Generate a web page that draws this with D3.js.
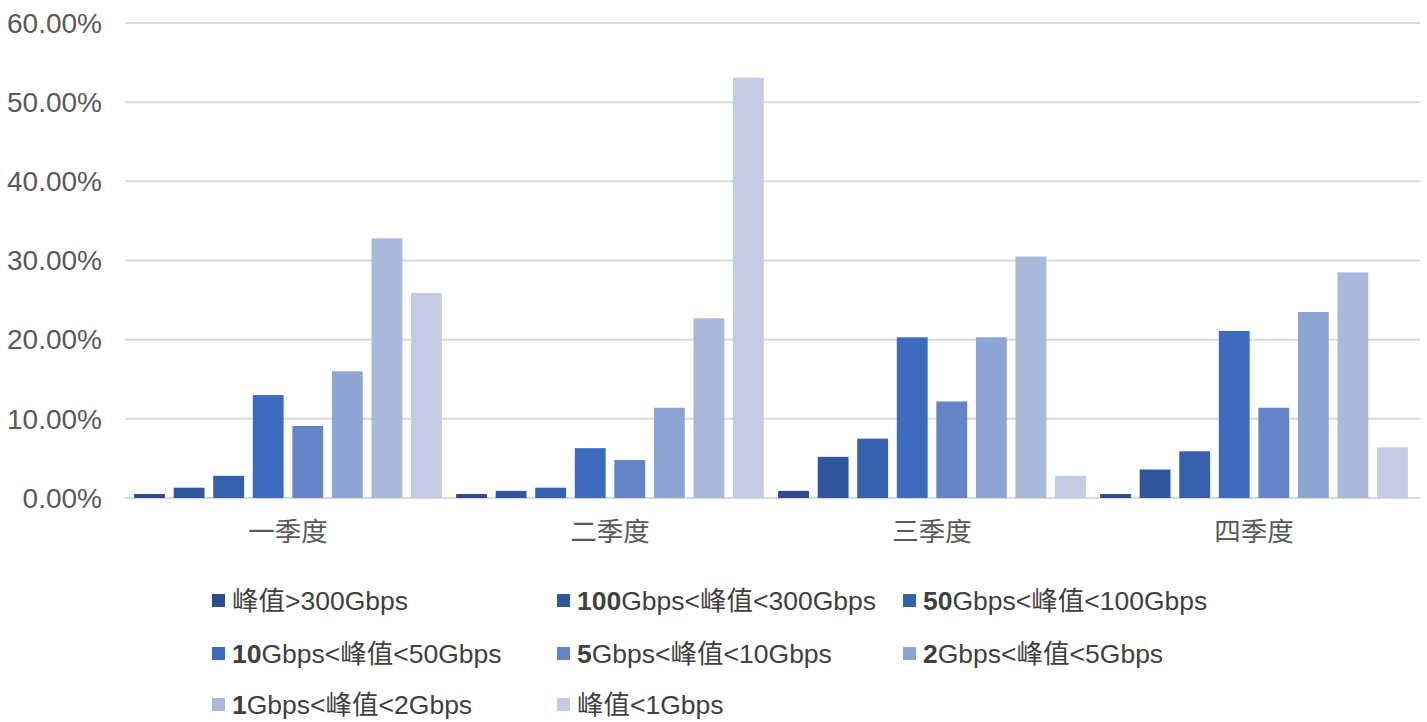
<!DOCTYPE html>
<html>
<head>
<meta charset="utf-8">
<script src="https://cdn.jsdelivr.net/npm/d3@7"></script>
<style>
  html, body { margin: 0; padding: 0; background: #fff; }
  svg { display: block; font-family: "Liberation Sans", "Noto Sans CJK SC", sans-serif; }
</style>
</head>
<body>
<svg id="chart" width="1427" height="722"></svg>
<script>
// Quarters along the x axis
const quarters = ["一季度", "二季度", "三季度", "四季度"];

// Peak-bandwidth bands (legend order)
const seriesNames = [
  "峰值>300Gbps",
  "100Gbps<峰值<300Gbps",
  "50Gbps<峰值<100Gbps",
  "10Gbps<峰值<50Gbps",
  "5Gbps<峰值<10Gbps",
  "2Gbps<峰值<5Gbps",
  "1Gbps<峰值<2Gbps",
  "峰值<1Gbps"
];

// Share of events per band, one array per quarter (percent)
const q1Values = [0.5, 1.3, 2.8, 13.0, 9.1, 16.0, 32.8, 25.9];
const q2Values = [0.5, 0.9, 1.3, 6.3, 4.8, 11.4, 22.7, 53.1];
const q3Values = [0.9, 5.2, 7.5, 20.3, 12.2, 20.3, 30.5, 2.8];
const q4Values = [0.5, 3.6, 5.9, 21.1, 11.4, 23.5, 28.5, 6.4];

const yTicks = [0, 10, 20, 30, 40, 50, 60];

const colors = ["#2c4a8c", "#30579e", "#3560ad", "#3d6cbf", "#6385c8", "#8ea4d3", "#aab8dc", "#c4cce3"];

const valuesByQuarter = [q1Values, q2Values, q3Values, q4Values];

const svg = d3.select("#chart");

const plot = { left: 127, right: 1415, top: 23, bottom: 498 };

const y = d3.scaleLinear().domain([0, 60]).range([plot.bottom, plot.top]);
const x0 = d3.scaleBand().domain(quarters).range([plot.left, plot.right]).padding(0);
const x1 = d3.scaleBand().domain(seriesNames).range([0, x0.bandwidth()])
  .paddingInner(0.22).paddingOuter(0.18);
const color = d3.scaleOrdinal().domain(seriesNames).range(colors);

// Horizontal gridlines
svg.append("g")
  .selectAll("line")
  .data(yTicks)
  .join("line")
  .attr("x1", plot.left - 2)
  .attr("x2", plot.right + 5)
  .attr("y1", d => y(d))
  .attr("y2", d => y(d))
  .attr("stroke", "#d9d9d9")
  .attr("stroke-width", 2);

// Y-axis tick labels
svg.append("g")
  .selectAll("text")
  .data(yTicks)
  .join("text")
  .attr("x", 102)
  .attr("y", d => y(d))
  .attr("dy", "0.35em")
  .attr("text-anchor", "end")
  .attr("font-size", 28)
  .attr("fill", "#595959")
  .text(d => d3.format(".2f")(d) + "%");

// Bars
const groups = svg.append("g")
  .selectAll("g")
  .data(quarters)
  .join("g")
  .attr("transform", d => `translate(${x0(d)},0)`);

groups.selectAll("rect")
  .data((q, i) => seriesNames.map((s, j) => ({ s, v: valuesByQuarter[i][j] })))
  .join("rect")
  .attr("x", d => x1(d.s))
  .attr("width", x1.bandwidth())
  .attr("y", d => y(d.v))
  .attr("height", d => y(0) - y(d.v))
  .attr("fill", d => color(d.s));

// Category labels
svg.append("g")
  .selectAll("text")
  .data(quarters)
  .join("text")
  .attr("x", d => x0(d) + x0.bandwidth() / 2)
  .attr("y", 532)
  .attr("dy", "0.35em")
  .attr("text-anchor", "middle")
  .attr("font-size", 26.5)
  .attr("fill", "#595959")
  .text(d => d);

// Legend: three columns, three rows
const legendCols = [212, 557, 903];
const legendRows = [600, 653, 704];
const legend = svg.append("g")
  .selectAll("g")
  .data(seriesNames)
  .join("g")
  .attr("transform", (d, i) => `translate(${legendCols[i % 3]},${legendRows[Math.floor(i / 3)]})`);

legend.append("rect")
  .attr("x", 0)
  .attr("y", -6)
  .attr("width", 13)
  .attr("height", 13)
  .attr("fill", d => color(d));

const legendText = legend.append("text")
  .attr("x", 20)
  .attr("y", 0)
  .attr("dy", "0.36em")
  .attr("font-size", 26.5)
  .attr("fill", "#404040");

legendText.each(function(d) {
  const m = d.match(/^(\d+)(.*)$/);
  const t = d3.select(this);
  if (m) {
    t.append("tspan").attr("font-weight", "bold").text(m[1]);
    t.append("tspan").text(m[2]);
  } else {
    t.append("tspan").text(d);
  }
});
</script>
</body>
</html>
